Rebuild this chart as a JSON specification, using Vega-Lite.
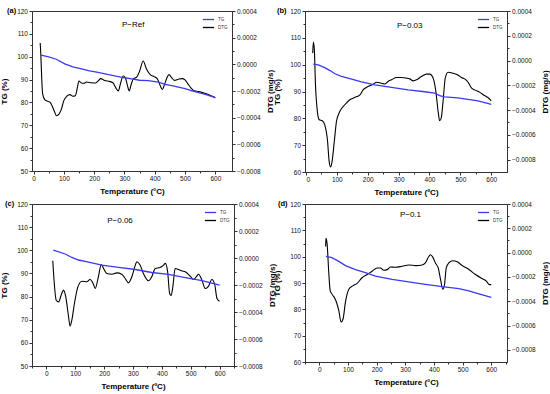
{
"$schema": "https://vega.github.io/schema/vega-lite/v6.json",
"padding": {"left": 0, "top": 6, "right": 0, "bottom": 0},
"bounds": "flush",
"spacing": {"row": 32, "column": 71},
"columns": 2,
"resolve": {"scale": {"color": "independent"}, "legend": {"color": "independent"}},
"datasets": {
"a": [
{"series":"TG","T":25,"value":100.7},{"series":"TG","T":50,"value":99.9},{"series":"TG","T":75,"value":98.9},{"series":"TG","T":103,"value":96.9},{"series":"TG","T":130,"value":95.6},{"series":"TG","T":158,"value":94.7},{"series":"TG","T":185,"value":93.8},{"series":"TG","T":213,"value":93.1},{"series":"TG","T":240,"value":92.4},{"series":"TG","T":268,"value":91.6},{"series":"TG","T":296,"value":90.9},{"series":"TG","T":324,"value":90.3},{"series":"TG","T":350,"value":89.7},{"series":"TG","T":379,"value":89.5},{"series":"TG","T":412,"value":88.9},{"series":"TG","T":434,"value":87.9},{"series":"TG","T":460,"value":87.2},{"series":"TG","T":500,"value":86.0},{"series":"TG","T":523,"value":85.1},{"series":"TG","T":545,"value":84.3},{"series":"TG","T":567,"value":83.5},{"series":"TG","T":600,"value":82.1},
{"series":"DTG","T":22,"value":0.00016},{"series":"DTG","T":24,"value":0.00008},{"series":"DTG","T":27,"value":-0.0001},{"series":"DTG","T":30,"value":-0.00022},{"series":"DTG","T":37,"value":-0.000265},{"series":"DTG","T":45,"value":-0.000275},{"series":"DTG","T":55,"value":-0.000285},{"series":"DTG","T":62,"value":-0.000315},{"series":"DTG","T":70,"value":-0.00036},{"series":"DTG","T":76,"value":-0.000386},{"series":"DTG","T":84,"value":-0.000374},{"series":"DTG","T":92,"value":-0.000336},{"series":"DTG","T":100,"value":-0.000272},{"series":"DTG","T":110,"value":-0.000239},{"series":"DTG","T":120,"value":-0.000227},{"series":"DTG","T":130,"value":-0.000239},{"series":"DTG","T":138,"value":-0.000235},{"series":"DTG","T":145,"value":-0.000171},{"series":"DTG","T":150,"value":-0.000125},{"series":"DTG","T":158,"value":-0.00014},{"series":"DTG","T":166,"value":-0.000142},{"series":"DTG","T":175,"value":-0.000133},{"series":"DTG","T":190,"value":-0.000138},{"series":"DTG","T":205,"value":-0.00014},{"series":"DTG","T":215,"value":-0.00012},{"series":"DTG","T":222,"value":-0.000107},{"series":"DTG","T":235,"value":-0.000122},{"series":"DTG","T":250,"value":-0.000128},{"series":"DTG","T":262,"value":-0.000138},{"series":"DTG","T":272,"value":-0.000178},{"series":"DTG","T":280,"value":-0.000199},{"series":"DTG","T":286,"value":-0.000153},{"series":"DTG","T":296,"value":-0.000087},{"series":"DTG","T":303,"value":-0.0001},{"series":"DTG","T":310,"value":-0.00016},{"series":"DTG","T":316,"value":-0.000199},{"series":"DTG","T":322,"value":-0.000153},{"series":"DTG","T":330,"value":-0.000107},{"series":"DTG","T":340,"value":-0.000097},{"series":"DTG","T":350,"value":-0.000052},{"series":"DTG","T":362,"value":0.000025},{"series":"DTG","T":372,"value":-0.000031},{"series":"DTG","T":385,"value":-0.000077},{"series":"DTG","T":398,"value":-0.000092},{"series":"DTG","T":408,"value":-0.000107},{"series":"DTG","T":418,"value":-0.000158},{"series":"DTG","T":425,"value":-0.000189},{"series":"DTG","T":432,"value":-0.000153},{"series":"DTG","T":440,"value":-0.000102},{"series":"DTG","T":447,"value":-0.000077},{"series":"DTG","T":455,"value":-0.000097},{"series":"DTG","T":465,"value":-0.00012},{"series":"DTG","T":478,"value":-0.000112},{"series":"DTG","T":490,"value":-0.000107},{"series":"DTG","T":500,"value":-0.000117},{"series":"DTG","T":510,"value":-0.000148},{"series":"DTG","T":520,"value":-0.000178},{"series":"DTG","T":530,"value":-0.000199},{"series":"DTG","T":545,"value":-0.000204},{"series":"DTG","T":560,"value":-0.000214},{"series":"DTG","T":575,"value":-0.000224},{"series":"DTG","T":590,"value":-0.000239},{"series":"DTG","T":600,"value":-0.00025}
],
"b": [
{"series":"TG","T":24,"value":100.2},{"series":"TG","T":40,"value":99.9},{"series":"TG","T":61,"value":98.9},{"series":"TG","T":78,"value":97.8},{"series":"TG","T":94,"value":96.6},{"series":"TG","T":115,"value":95.6},{"series":"TG","T":148,"value":94.6},{"series":"TG","T":180,"value":93.6},{"series":"TG","T":223,"value":92.5},{"series":"TG","T":277,"value":91.5},{"series":"TG","T":331,"value":90.6},{"series":"TG","T":385,"value":89.9},{"series":"TG","T":417,"value":89.4},{"series":"TG","T":433,"value":88.5},{"series":"TG","T":449,"value":88.0},{"series":"TG","T":492,"value":87.6},{"series":"TG","T":525,"value":87.1},{"series":"TG","T":557,"value":86.5},{"series":"TG","T":600,"value":85.2},
{"series":"DTG","T":22,"value":0.00006},{"series":"DTG","T":24,"value":0.00015},{"series":"DTG","T":27,"value":0.0001},{"series":"DTG","T":31,"value":-0.0002},{"series":"DTG","T":37,"value":-0.00041},{"series":"DTG","T":43,"value":-0.000478},{"series":"DTG","T":53,"value":-0.000486},{"series":"DTG","T":61,"value":-0.00052},{"series":"DTG","T":70,"value":-0.00065},{"series":"DTG","T":75,"value":-0.00081},{"series":"DTG","T":80,"value":-0.00086},{"series":"DTG","T":85,"value":-0.00081},{"series":"DTG","T":92,"value":-0.00065},{"series":"DTG","T":99,"value":-0.00049},{"series":"DTG","T":110,"value":-0.00041},{"series":"DTG","T":126,"value":-0.000357},{"series":"DTG","T":142,"value":-0.000317},{"series":"DTG","T":158,"value":-0.000298},{"series":"DTG","T":175,"value":-0.000277},{"series":"DTG","T":185,"value":-0.000237},{"series":"DTG","T":201,"value":-0.00021},{"series":"DTG","T":218,"value":-0.000191},{"series":"DTG","T":228,"value":-0.000175},{"series":"DTG","T":245,"value":-0.000183},{"series":"DTG","T":255,"value":-0.00019},{"series":"DTG","T":266,"value":-0.000169},{"series":"DTG","T":277,"value":-0.000156},{"series":"DTG","T":293,"value":-0.000137},{"series":"DTG","T":309,"value":-0.000137},{"series":"DTG","T":325,"value":-0.000142},{"series":"DTG","T":336,"value":-0.000148},{"series":"DTG","T":347,"value":-0.000164},{"series":"DTG","T":358,"value":-0.000156},{"series":"DTG","T":374,"value":-0.000129},{"series":"DTG","T":390,"value":-0.00011},{"series":"DTG","T":401,"value":-0.00011},{"series":"DTG","T":411,"value":-0.000137},{"series":"DTG","T":420,"value":-0.000237},{"series":"DTG","T":428,"value":-0.00041},{"series":"DTG","T":433,"value":-0.000486},{"series":"DTG","T":438,"value":-0.000465},{"series":"DTG","T":444,"value":-0.00033},{"series":"DTG","T":451,"value":-0.000143},{"series":"DTG","T":460,"value":-0.000094},{"series":"DTG","T":476,"value":-0.000102},{"series":"DTG","T":492,"value":-0.000116},{"series":"DTG","T":503,"value":-0.000137},{"series":"DTG","T":514,"value":-0.000148},{"series":"DTG","T":525,"value":-0.000175},{"series":"DTG","T":535,"value":-0.000218},{"series":"DTG","T":546,"value":-0.000237},{"series":"DTG","T":562,"value":-0.000255},{"series":"DTG","T":578,"value":-0.000282},{"series":"DTG","T":589,"value":-0.000298},{"series":"DTG","T":600,"value":-0.000325}
],
"c": [
{"series":"TG","T":24,"value":100.1},{"series":"TG","T":65,"value":98.4},{"series":"TG","T":88,"value":96.9},{"series":"TG","T":111,"value":95.8},{"series":"TG","T":146,"value":94.9},{"series":"TG","T":192,"value":93.6},{"series":"TG","T":250,"value":92.6},{"series":"TG","T":308,"value":91.7},{"series":"TG","T":365,"value":90.4},{"series":"TG","T":423,"value":89.6},{"series":"TG","T":481,"value":88.2},{"series":"TG","T":539,"value":86.9},{"series":"TG","T":600,"value":84.9},
{"series":"DTG","T":22,"value":-0.00002},{"series":"DTG","T":34,"value":-0.000313},{"series":"DTG","T":42,"value":-0.000325},{"series":"DTG","T":53,"value":-0.000263},{"series":"DTG","T":59,"value":-0.000238},{"series":"DTG","T":67,"value":-0.000288},{"series":"DTG","T":76,"value":-0.000424},{"series":"DTG","T":82,"value":-0.000505},{"series":"DTG","T":88,"value":-0.000461},{"series":"DTG","T":97,"value":-0.000337},{"series":"DTG","T":109,"value":-0.000214},{"series":"DTG","T":123,"value":-0.000172},{"series":"DTG","T":140,"value":-0.000176},{"series":"DTG","T":151,"value":-0.000159},{"series":"DTG","T":163,"value":-0.000194},{"series":"DTG","T":169,"value":-0.000226},{"series":"DTG","T":180,"value":-0.000139},{"series":"DTG","T":190,"value":-0.000048},{"series":"DTG","T":198,"value":-0.000078},{"series":"DTG","T":209,"value":-0.000115},{"series":"DTG","T":227,"value":-0.00012},{"series":"DTG","T":244,"value":-0.00011},{"series":"DTG","T":261,"value":-0.00012},{"series":"DTG","T":273,"value":-0.000152},{"series":"DTG","T":284,"value":-0.000184},{"series":"DTG","T":296,"value":-0.000139},{"series":"DTG","T":308,"value":-0.000053},{"series":"DTG","T":313,"value":-0.000028},{"series":"DTG","T":325,"value":-0.000053},{"series":"DTG","T":336,"value":-0.000115},{"series":"DTG","T":354,"value":-0.000169},{"series":"DTG","T":365,"value":-0.000139},{"series":"DTG","T":377,"value":-0.000078},{"series":"DTG","T":394,"value":-0.00007},{"series":"DTG","T":406,"value":-0.000053},{"series":"DTG","T":412,"value":-0.00004},{"series":"DTG","T":420,"value":-0.000102},{"series":"DTG","T":427,"value":-0.000263},{"series":"DTG","T":432,"value":-0.000278},{"series":"DTG","T":438,"value":-0.000214},{"series":"DTG","T":446,"value":-0.000078},{"series":"DTG","T":458,"value":-0.000085},{"series":"DTG","T":469,"value":-0.000095},{"series":"DTG","T":481,"value":-0.000102},{"series":"DTG","T":498,"value":-0.000134},{"series":"DTG","T":510,"value":-0.000159},{"series":"DTG","T":521,"value":-0.000134},{"series":"DTG","T":527,"value":-0.00012},{"series":"DTG","T":539,"value":-0.000164},{"series":"DTG","T":550,"value":-0.000226},{"series":"DTG","T":562,"value":-0.000208},{"series":"DTG","T":573,"value":-0.000159},{"series":"DTG","T":583,"value":-0.000194},{"series":"DTG","T":591,"value":-0.0003},{"series":"DTG","T":600,"value":-0.00032}
],
"d": [
{"series":"TG","T":23,"value":100.1},{"series":"TG","T":44,"value":99.6},{"series":"TG","T":68,"value":98.2},{"series":"TG","T":91,"value":96.6},{"series":"TG","T":126,"value":95.1},{"series":"TG","T":161,"value":93.9},{"series":"TG","T":196,"value":92.6},{"series":"TG","T":254,"value":91.4},{"series":"TG","T":312,"value":90.4},{"series":"TG","T":370,"value":89.5},{"series":"TG","T":429,"value":88.6},{"series":"TG","T":487,"value":87.9},{"series":"TG","T":522,"value":87.0},{"series":"TG","T":557,"value":85.9},{"series":"TG","T":600,"value":84.5},
{"series":"DTG","T":22,"value":0.00005},{"series":"DTG","T":23,"value":0.000117},{"series":"DTG","T":27,"value":0.000076},{"series":"DTG","T":33,"value":-0.000166},{"series":"DTG","T":38,"value":-0.000315},{"series":"DTG","T":47,"value":-0.00035},{"series":"DTG","T":58,"value":-0.000396},{"series":"DTG","T":68,"value":-0.000477},{"series":"DTG","T":76,"value":-0.000571},{"series":"DTG","T":83,"value":-0.000544},{"series":"DTG","T":91,"value":-0.000409},{"series":"DTG","T":103,"value":-0.000301},{"series":"DTG","T":117,"value":-0.000274},{"series":"DTG","T":132,"value":-0.000253},{"series":"DTG","T":149,"value":-0.000207},{"series":"DTG","T":167,"value":-0.00018},{"series":"DTG","T":184,"value":-0.000153},{"series":"DTG","T":202,"value":-0.000126},{"series":"DTG","T":213,"value":-0.000126},{"series":"DTG","T":225,"value":-0.000145},{"series":"DTG","T":237,"value":-0.00014},{"series":"DTG","T":248,"value":-0.000118},{"series":"DTG","T":266,"value":-0.000121},{"series":"DTG","T":289,"value":-0.000112},{"series":"DTG","T":312,"value":-0.000102},{"series":"DTG","T":336,"value":-0.000107},{"series":"DTG","T":359,"value":-0.000102},{"series":"DTG","T":370,"value":-0.000085},{"series":"DTG","T":382,"value":-0.000032},{"series":"DTG","T":388,"value":-0.000018},{"series":"DTG","T":396,"value":-0.000037},{"series":"DTG","T":405,"value":-0.000085},{"series":"DTG","T":415,"value":-0.000126},{"series":"DTG","T":423,"value":-0.00022},{"series":"DTG","T":431,"value":-0.000301},{"series":"DTG","T":437,"value":-0.000261},{"series":"DTG","T":443,"value":-0.000126},{"series":"DTG","T":452,"value":-0.000085},{"series":"DTG","T":466,"value":-0.000067},{"series":"DTG","T":481,"value":-0.000075},{"series":"DTG","T":499,"value":-0.000107},{"series":"DTG","T":522,"value":-0.000139},{"series":"DTG","T":545,"value":-0.00018},{"series":"DTG","T":569,"value":-0.000215},{"series":"DTG","T":583,"value":-0.000234},{"series":"DTG","T":592,"value":-0.000261},{"series":"DTG","T":600,"value":-0.000263}
]
},
"concat": [
{
"width": 200, "height": 160,
"title": {"text": "(a)", "dx": -25},
"data": {"name": "a"},
"layer": [
{"transform": [{"filter": "datum.series === 'DTG'"}], "mark": {"type": "line", "strokeWidth": 1.1, "clip": true, "interpolate": "monotone"},
 "encoding": {"x": {"field": "T", "type": "quantitative", "scale": {"domain": [-5, 655], "nice": false, "zero": false}, "axis": {"orient": "bottom", "values": [0,100,200,300,400,500,600], "title": "Temperature (°C)"}},
  "y": {"field": "value", "type": "quantitative", "scale": {"domain": [-0.0008, 0.0004], "nice": false, "zero": false}, "axis": {"orient": "right", "values": [-0.0008,-0.0006,-0.0004,-0.0002,0,0.0002,0.0004], "format": ".4f", "title": "DTG (mg/s)"}},
  "color": {"field": "series", "type": "nominal", "scale": {"domain": ["TG","DTG"], "range": ["#3a3af2","#000000"]}, "legend": {"title": null}}}},
{"transform": [{"filter": "datum.series === 'TG'"}], "mark": {"type": "line", "strokeWidth": 1.3, "clip": true},
 "encoding": {"x": {"field": "T", "type": "quantitative", "axis": null},
  "y": {"field": "value", "type": "quantitative", "scale": {"domain": [50, 120], "nice": false, "zero": false}, "axis": {"orient": "left", "values": [50,60,70,80,90,100,110,120], "title": "TG (%)"}},
  "color": {"field": "series", "type": "nominal"}}},
{"data": {"values": [{"label": "P−Ref", "T": 329, "v": 114}]}, "mark": {"type": "text", "fontSize": 8},
 "encoding": {"x": {"field": "T", "type": "quantitative", "axis": {"orient": "bottom", "values": [50,150,250,350,450,550], "labels": false, "domain": false, "title": null, "tickSize": 2}},
  "y": {"field": "v", "type": "quantitative", "scale": {"domain": [50, 120], "nice": false, "zero": false}, "axis": {"orient": "left", "values": [55,65,75,85,95,105,115], "labels": false, "domain": false, "title": null, "tickSize": 2}}, "text": {"field": "label"}}},
{"transform": [{"filter": "datum.series === 'DTG'"}], "mark": {"type": "line", "opacity": 0, "clip": true},
 "encoding": {"x": {"field": "T", "type": "quantitative", "axis": null},
  "y": {"field": "value", "type": "quantitative", "scale": {"domain": [-0.0008, 0.0004], "nice": false, "zero": false}, "axis": {"orient": "right", "values": [-0.0007,-0.0005,-0.0003,-0.0001,0.0001,0.0003], "labels": false, "domain": false, "title": null, "tickSize": 2}}}}
],
"resolve": {"scale": {"y": "independent"}, "axis": {"x": "independent"}}
},
{
"width": 202, "height": 161,
"title": {"text": "(b)", "dx": -28},
"data": {"name": "b"},
"layer": [
{"transform": [{"filter": "datum.series === 'DTG'"}], "mark": {"type": "line", "strokeWidth": 1.1, "clip": true, "interpolate": "monotone"},
 "encoding": {"x": {"field": "T", "type": "quantitative", "scale": {"domain": [-3, 651], "nice": false, "zero": false}, "axis": {"orient": "bottom", "values": [0,100,200,300,400,500,600], "title": "Temperature (ºC)"}},
  "y": {"field": "value", "type": "quantitative", "scale": {"domain": [-0.0009, 0.0004], "nice": false, "zero": false}, "axis": {"orient": "right", "values": [-0.0008,-0.0006,-0.0004,-0.0002,0,0.0002,0.0004], "format": ".4f", "title": "DTG (mg/s)"}},
  "color": {"field": "series", "type": "nominal", "scale": {"domain": ["TG","DTG"], "range": ["#3a3af2","#000000"]}, "legend": {"title": null}}}},
{"transform": [{"filter": "datum.series === 'TG'"}], "mark": {"type": "line", "strokeWidth": 1.3, "clip": true},
 "encoding": {"x": {"field": "T", "type": "quantitative", "axis": null},
  "y": {"field": "value", "type": "quantitative", "scale": {"domain": [60, 120], "nice": false, "zero": false}, "axis": {"orient": "left", "values": [60,70,80,90,100,110,120], "title": "TG (%)"}},
  "color": {"field": "series", "type": "nominal"}}},
{"data": {"values": [{"label": "P−0.03", "T": 336, "v": 114.5}]}, "mark": {"type": "text", "fontSize": 8},
 "encoding": {"x": {"field": "T", "type": "quantitative", "axis": {"orient": "bottom", "values": [50,150,250,350,450,550], "labels": false, "domain": false, "title": null, "tickSize": 2}},
  "y": {"field": "v", "type": "quantitative", "scale": {"domain": [60, 120], "nice": false, "zero": false}, "axis": {"orient": "left", "values": [65,75,85,95,105,115], "labels": false, "domain": false, "title": null, "tickSize": 2}}, "text": {"field": "label"}}},
{"transform": [{"filter": "datum.series === 'DTG'"}], "mark": {"type": "line", "opacity": 0, "clip": true},
 "encoding": {"x": {"field": "T", "type": "quantitative", "axis": null},
  "y": {"field": "value", "type": "quantitative", "scale": {"domain": [-0.0009, 0.0004], "nice": false, "zero": false}, "axis": {"orient": "right", "values": [-0.0007,-0.0005,-0.0003,-0.0001,0.0001,0.0003], "labels": false, "domain": false, "title": null, "tickSize": 2}}}}
],
"resolve": {"scale": {"y": "independent"}, "axis": {"x": "independent"}}
},
{
"width": 202, "height": 162,
"title": {"text": "(c)", "dx": -27},
"data": {"name": "c"},
"layer": [
{"transform": [{"filter": "datum.series === 'DTG'"}], "mark": {"type": "line", "strokeWidth": 1.1, "clip": true, "interpolate": "monotone"},
 "encoding": {"x": {"field": "T", "type": "quantitative", "scale": {"domain": [-50, 650], "nice": false, "zero": false}, "axis": {"orient": "bottom", "values": [0,100,200,300,400,500,600], "title": "Temperature (ºC)"}},
  "y": {"field": "value", "type": "quantitative", "scale": {"domain": [-0.0008, 0.0004], "nice": false, "zero": false}, "axis": {"orient": "right", "values": [-0.0008,-0.0006,-0.0004,-0.0002,0,0.0002,0.0004], "format": ".4f", "title": "DTG (mg/s)"}},
  "color": {"field": "series", "type": "nominal", "scale": {"domain": ["TG","DTG"], "range": ["#3a3af2","#000000"]}, "legend": {"title": null}}}},
{"transform": [{"filter": "datum.series === 'TG'"}], "mark": {"type": "line", "strokeWidth": 1.3, "clip": true},
 "encoding": {"x": {"field": "T", "type": "quantitative", "axis": null},
  "y": {"field": "value", "type": "quantitative", "scale": {"domain": [50, 120], "nice": false, "zero": false}, "axis": {"orient": "left", "values": [50,60,70,80,90,100,110,120], "title": "TG (%)"}},
  "color": {"field": "series", "type": "nominal"}}},
{"data": {"values": [{"label": "P−0.06", "T": 255, "v": 112.8}]}, "mark": {"type": "text", "fontSize": 8},
 "encoding": {"x": {"field": "T", "type": "quantitative", "axis": {"orient": "bottom", "values": [-50,50,150,250,350,450,550,650], "labels": false, "domain": false, "title": null, "tickSize": 2}},
  "y": {"field": "v", "type": "quantitative", "scale": {"domain": [50, 120], "nice": false, "zero": false}, "axis": {"orient": "left", "values": [55,65,75,85,95,105,115], "labels": false, "domain": false, "title": null, "tickSize": 2}}, "text": {"field": "label"}}},
{"transform": [{"filter": "datum.series === 'DTG'"}], "mark": {"type": "line", "opacity": 0, "clip": true},
 "encoding": {"x": {"field": "T", "type": "quantitative", "axis": null},
  "y": {"field": "value", "type": "quantitative", "scale": {"domain": [-0.0008, 0.0004], "nice": false, "zero": false}, "axis": {"orient": "right", "values": [-0.0007,-0.0005,-0.0003,-0.0001,0.0001,0.0003], "labels": false, "domain": false, "title": null, "tickSize": 2}}}}
],
"resolve": {"scale": {"y": "independent"}, "axis": {"x": "independent"}}
},
{
"width": 202, "height": 158,
"title": {"text": "(d)", "dx": -27},
"data": {"name": "d"},
"layer": [
{"transform": [{"filter": "datum.series === 'DTG'"}], "mark": {"type": "line", "strokeWidth": 1.1, "clip": true, "interpolate": "monotone"},
 "encoding": {"x": {"field": "T", "type": "quantitative", "scale": {"domain": [-50, 655], "nice": false, "zero": false}, "axis": {"orient": "bottom", "values": [0,100,200,300,400,500,600], "title": "Temperature (°C)"}},
  "y": {"field": "value", "type": "quantitative", "scale": {"domain": [-0.0009, 0.0004], "nice": false, "zero": false}, "axis": {"orient": "right", "values": [-0.0008,-0.0006,-0.0004,-0.0002,0,0.0002,0.0004], "format": ".4f", "title": "DTG (mg/s)"}},
  "color": {"field": "series", "type": "nominal", "scale": {"domain": ["TG","DTG"], "range": ["#3a3af2","#000000"]}, "legend": {"title": null}}}},
{"transform": [{"filter": "datum.series === 'TG'"}], "mark": {"type": "line", "strokeWidth": 1.3, "clip": true},
 "encoding": {"x": {"field": "T", "type": "quantitative", "axis": null},
  "y": {"field": "value", "type": "quantitative", "scale": {"domain": [60, 120], "nice": false, "zero": false}, "axis": {"orient": "left", "values": [60,70,80,90,100,110,120], "title": "TG (%)"}},
  "color": {"field": "series", "type": "nominal"}}},
{"data": {"values": [{"label": "P−0.1", "T": 318, "v": 116}]}, "mark": {"type": "text", "fontSize": 8},
 "encoding": {"x": {"field": "T", "type": "quantitative", "axis": {"orient": "bottom", "values": [-50,50,150,250,350,450,550,650], "labels": false, "domain": false, "title": null, "tickSize": 2}},
  "y": {"field": "v", "type": "quantitative", "scale": {"domain": [60, 120], "nice": false, "zero": false}, "axis": {"orient": "left", "values": [65,75,85,95,105,115], "labels": false, "domain": false, "title": null, "tickSize": 2}}, "text": {"field": "label"}}},
{"transform": [{"filter": "datum.series === 'DTG'"}], "mark": {"type": "line", "opacity": 0, "clip": true},
 "encoding": {"x": {"field": "T", "type": "quantitative", "axis": null},
  "y": {"field": "value", "type": "quantitative", "scale": {"domain": [-0.0009, 0.0004], "nice": false, "zero": false}, "axis": {"orient": "right", "values": [-0.0007,-0.0005,-0.0003,-0.0001,0.0001,0.0003], "labels": false, "domain": false, "title": null, "tickSize": 2}}}}
],
"resolve": {"scale": {"y": "independent"}, "axis": {"x": "independent"}}
}
],
"config": {
 "font": "Liberation Sans",
 "view": {"stroke": "#333333", "strokeWidth": 1},
 "axis": {"grid": false, "domainColor": "#333333", "tickColor": "#333333", "tickSize": 3, "labelFontSize": 6.5, "labelColor": "#111111", "labelPadding": 1.5, "labelOverlap": false, "titleFontSize": 8, "titleFontWeight": "bold", "titleColor": "#000000", "titlePadding": 5},
 "axisLeft": {"titlePadding": 8},
 "axisRight": {"titleAngle": 270, "titleBaseline": "top", "titlePadding": 6},
 "legend": {"orient": "top-right", "offset": 4, "padding": 0, "symbolType": "M-1.6,0H1.6", "symbolSize": 49, "symbolStrokeWidth": 1.3, "labelFontSize": 4.5, "labelOffset": 5, "rowPadding": 0, "labelColor": "#333333"},
 "title": {"anchor": "start", "frame": "group", "fontSize": 7.5, "fontWeight": "bold", "baseline": "middle", "offset": -6, "color": "#000000"}
}
}
